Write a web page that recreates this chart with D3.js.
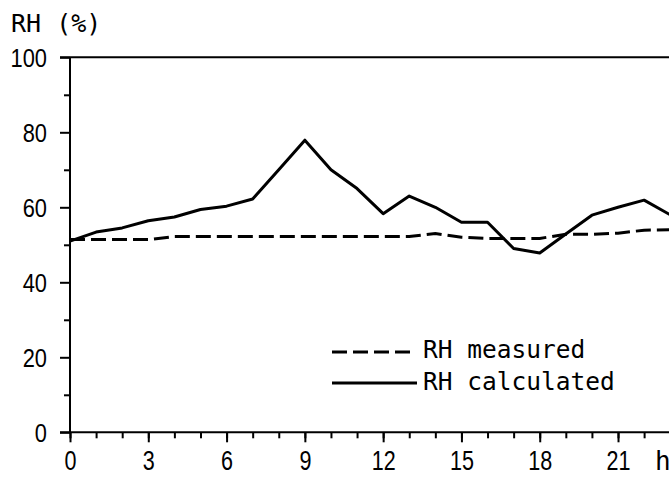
<!DOCTYPE html>
<html>
<head>
<meta charset="utf-8">
<script src="https://cdn.jsdelivr.net/npm/d3@7"></script>
<style>
  body { margin: 0; background: #fff; }
  text { fill: #000; }
</style>
</head>
<body>
<div id="chart"></div>
<script>
// hours of the day
var hours = d3.range(0, 24);
// relative humidity, %
var rhMeasured = [51.4, 51.4, 51.4, 51.4, 52.2, 52.2, 52.2, 52.2, 52.2, 52.2, 52.2, 52.2,
                  52.2, 52.2, 53, 52, 51.7, 51.7, 51.7, 52.8, 52.8, 53.1, 53.9, 54];
var rhCalculated = [51, 53.4, 54.5, 56.4, 57.4, 59.4, 60.3, 62.2, 70, 77.9, 70, 65,
                    58.3, 63, 60, 56, 56, 49, 47.8, 52.9, 57.9, 60, 61.9, 58];
var xMajor = [0, 3, 6, 9, 12, 15, 18, 21];
var yMajor = [0, 20, 40, 60, 80, 100];
var yMinor = [10, 30, 50, 70, 90];

var width = 669, height = 477;
var mono = "'DejaVu Sans Mono', monospace";

var svg = d3.select("#chart")
    .append("svg")
    .attr("width", width)
    .attr("height", height);

var x = d3.scaleLinear().domain([0, 24]).range([70, 696.3]);
var y = d3.scaleLinear().domain([0, 100]).range([432.3, 57.3]);

// x axis: minor ticks every hour, major every 3 h
svg.append("g")
    .attr("transform", `translate(0, ${y(0)})`)
    .call(d3.axisBottom(x).tickValues(hours).tickSize(6).tickFormat(""))
    .call(g => g.select(".domain").remove());
var xAxis = svg.append("g")
    .attr("transform", `translate(0, ${y(0)})`)
    .call(d3.axisBottom(x).tickValues(xMajor).tickSize(10));
xAxis.select(".domain").remove();
// narrow, tall digits like the original print
xAxis.selectAll("text")
    .style("font-family", "'Liberation Sans', Arial, sans-serif")
    .style("font-size", "28px")
    .attr("y", 18)
    .attr("dy", "0.71em")
    .attr("transform", "scale(0.77,1)");

// y axis
svg.append("g")
    .attr("transform", `translate(${x(0)}, 0)`)
    .call(d3.axisLeft(y).tickValues(yMinor).tickSize(6).tickFormat(""))
    .call(g => g.select(".domain").remove());
var yAxis = svg.append("g")
    .attr("transform", `translate(${x(0)}, 0)`)
    .call(d3.axisLeft(y).tickValues(yMajor).tickSize(10));
yAxis.select(".domain").remove();
yAxis.selectAll("text")
    .style("font-family", "'Liberation Sans', Arial, sans-serif")
    .style("font-size", "26px")
    .attr("x", -27.4)
    .attr("dy", "0.36em")
    .attr("transform", "scale(0.84,1)");

svg.selectAll(".tick line").attr("stroke", "#000").attr("stroke-width", 2);

// frame lines
svg.append("line")
    .attr("x1", 60).attr("x2", width)
    .attr("y1", y(0)).attr("y2", y(0))
    .attr("stroke", "#000").attr("stroke-width", 2);
svg.append("line")
    .attr("x1", 60).attr("x2", width)
    .attr("y1", y(100)).attr("y2", y(100))
    .attr("stroke", "#000").attr("stroke-width", 2);
svg.append("line")
    .attr("x1", x(0)).attr("x2", x(0))
    .attr("y1", y(100)).attr("y2", y(0))
    .attr("stroke", "#000").attr("stroke-width", 2);

// data lines
var line = d3.line()
    .x(function (d, i) { return x(hours[i]); })
    .y(function (d) { return y(d); });

svg.append("path")
    .datum(rhMeasured)
    .attr("fill", "none")
    .attr("stroke", "#000")
    .attr("stroke-width", 3)
    .attr("stroke-dasharray", "15,6")
    .attr("d", line);

svg.append("path")
    .datum(rhCalculated)
    .attr("fill", "none")
    .attr("stroke", "#000")
    .attr("stroke-width", 3)
    .attr("stroke-linejoin", "round")
    .attr("d", line);

// titles
svg.append("text").attr("x", 11).attr("y", 32)
    .style("font-family", mono).style("font-size", "25px").text("RH (%)");
svg.append("text").attr("x", 655).attr("y", 470)
    .style("font-family", mono).style("font-size", "26px").text("h");

// legend
svg.append("line").attr("x1", 332).attr("x2", 412).attr("y1", 352).attr("y2", 352)
    .attr("stroke", "#000").attr("stroke-width", 3).attr("stroke-dasharray", "15,6");
svg.append("line").attr("x1", 332).attr("x2", 417).attr("y1", 383).attr("y2", 383)
    .attr("stroke", "#000").attr("stroke-width", 3);
svg.append("text").attr("x", 423).attr("y", 358)
    .style("font-family", mono).style("font-size", "24.5px").text("RH measured");
svg.append("text").attr("x", 423).attr("y", 390)
    .style("font-family", mono).style("font-size", "24.5px").text("RH calculated");
</script>
</body>
</html>
